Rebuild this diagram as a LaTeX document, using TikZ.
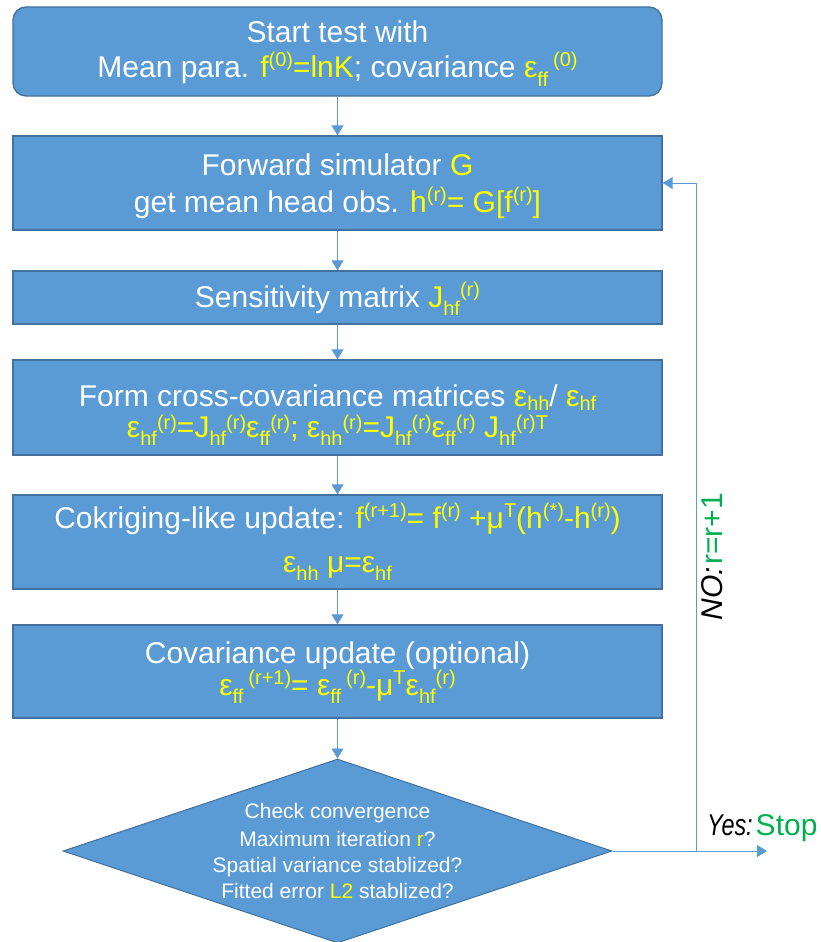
\documentclass[tikz,border=0pt]{standalone}
\usepackage{fontspec}
\usepackage{graphicx}
\setmainfont{Liberation Sans}
\usetikzlibrary{arrows.meta,shapes.geometric}
\definecolor{boxfill}{RGB}{91,155,213}
\definecolor{boxline}{RGB}{65,113,156}
\definecolor{arrowc}{RGB}{91,155,213}
\definecolor{yel}{RGB}{255,255,0}
\definecolor{grn}{RGB}{0,176,80}
\newcommand\Y{\color{yel}}
\newcommand\up[2][11pt]{\smash{\raisebox{#1}{\fontsize{20}{20}\selectfont #2}}}
\newcommand\dn[2][8.5pt]{\smash{\raisebox{-#1}{\fontsize{20}{20}\selectfont #2}}}
% one text line, centred, baseline raised by #1 from the node centre
\newcommand\tline[2]{\raisebox{#1}[0pt][0pt]{\makebox[0pt][c]{#2}}}
\begin{document}
\begin{tikzpicture}[x=1pt,y=-1pt,
  box/.style={draw=boxline, line width=1.3pt, fill=boxfill, minimum width=649pt,
    inner sep=0pt, text=white, font=\fontsize{30}{35}\selectfont},
  arr/.style={draw=arrowc, line width=0.9pt, -{Triangle[width=12pt,length=10pt]}},
  lbl/.style={inner sep=0pt, font=\fontsize{30}{30}\selectfont}]
\useasboundingbox (0,0) rectangle (820,942);
\node[box, rounded corners=13pt, minimum height=89pt] (b1) at (337.5,51.5)
  {\tline{8.5pt}{Start test with}\tline{-26.5pt}{Mean para. {\Y f\up{(0)}=lnK}; covariance {\Y ε\dn{ff}\,\up{(0)}}}};
\node[box, minimum height=94pt] (b2) at (337.5,183)
  {\tline{8pt}{Forward simulator {\Y G}}\tline{-29pt}{get mean head obs. {\Y h\up{(r)}= G[f\up{(r)}]}}};
\node[box, minimum height=53pt] (b3) at (337.5,297.5)
  {\tline{-9.5pt}{Sensitivity matrix {\Y J\dn{hf}\up{(r)}}}};
\node[box, minimum height=95pt] (b4) at (337.5,407.5)
  {\tline{1pt}{Form cross-covariance matrices {\Y ε\dn[4pt]{hh}}/ {\Y ε\dn[4pt]{hf}}}\tline{-29.5pt}{\Y ε\dn{hf}\up[8pt]{(r)}=J\dn{hf}\up[8pt]{(r)}ε\dn{ff}\up[8pt]{(r)}; ε\dn{hh}\up[8pt]{(r)}=J\dn{hf}\up[8pt]{(r)}ε\dn{ff}\up[8pt]{(r)} J\dn{hf}\up[8pt]{(r)T}}};
\node[box, minimum height=94pt] (b5) at (337.5,542)
  {\tline{14pt}{Cokriging-like update: {\Y f\up{(r+1)}= f\up{(r)} +μ\up{T}(h\up{(*)}-h\up{(r)})}}\tline{-30pt}{\Y ε\dn{hh} μ=ε\dn{hf}}};
\node[box, minimum height=93pt] (b6) at (337.5,671.5)
  {\tline{8pt}{Covariance update (optional)}\tline{-23.5pt}{\Y ε\dn{ff}\,\up{(r+1)}= ε\dn{ff}\,\up{(r)}-μ\up{T}ε\dn{hf}\up{(r)}}};
\node[diamond, draw=boxline, line width=1pt, fill=boxfill, minimum width=549pt, minimum height=184pt,
  inner sep=0pt, text=white, font=\fontsize{21}{26.5}\selectfont] (dia) at (337.5,851)
  {\tline{33pt}{Check convergence}\tline{5pt}{Maximum iteration {\Y r}?}\tline{-21pt}{Spatial variance stablized?}\tline{-47pt}{Fitted error {\Y L2} stablized?}};
\draw[arr] (b1.south) -- (b2.north);
\draw[arr] (b2.south) -- (b3.north);
\draw[arr] (b3.south) -- (b4.north);
\draw[arr] (b4.south) -- (b5.north);
\draw[arr] (b5.south) -- (b6.north);
\draw[arr] (b6.south) -- (dia.north);
\coordinate (lc) at (696,851);
\coordinate (stopc) at (767,851);
\draw[arr] (dia.east) -- (lc) |- (b2.east);
\draw[arr] (dia.east) -- (stopc);
\node[lbl, anchor=base west] (yes) at (707,835) {\scalebox{0.78}[1]{\textit{Yes:}}\kern3pt\textcolor{grn}{Stop}};
\node[lbl, rotate=90, anchor=base] (no) at (722,556.5) {\textit{NO:}\kern2pt\textcolor{grn}{r=r+1}};
\end{tikzpicture}
\end{document}
